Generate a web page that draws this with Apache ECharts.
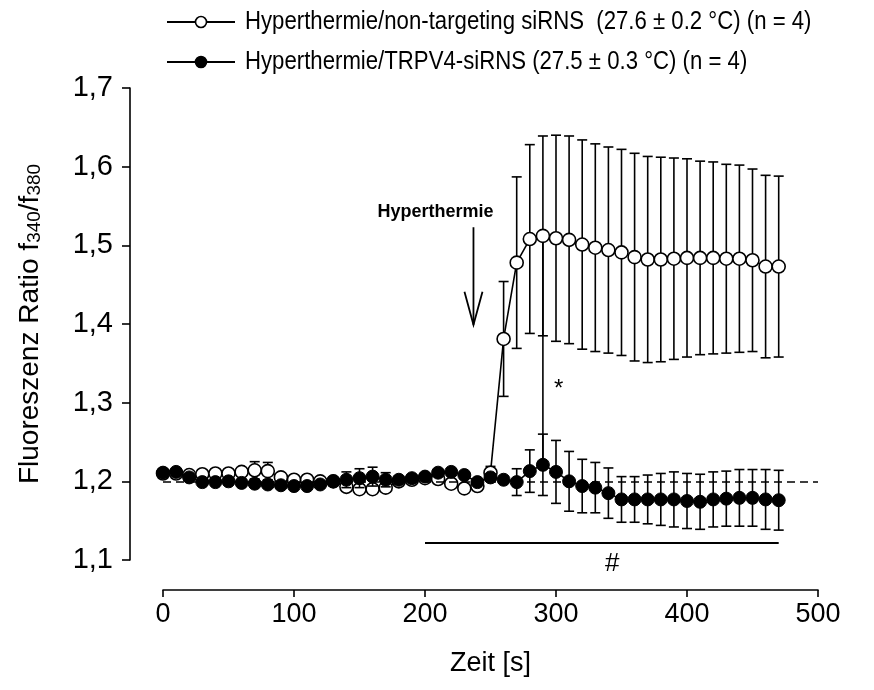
<!DOCTYPE html>
<html>
<head>
<meta charset="utf-8">
<script src="https://cdn.jsdelivr.net/npm/echarts@6/dist/echarts.min.js"></script>
<style>
  html, body { margin: 0; padding: 0; background: #fff; }
  #chart { width: 874px; height: 690px; }
</style>
</head>
<body>
<div id="chart"></div>
<script>
// Time points (s)
const times = [0,10,20,30,40,50,60,70,80,90,100,110,120,130,140,150,160,170,180,190,
  200,210,220,230,240,250,260,270,280,290,300,310,320,330,340,350,360,370,380,390,
  400,410,420,430,440,450,460,470];

// Hyperthermie / non-targeting siRNS: mean and SEM
const ctrlMean = [1.210,1.210,1.208,1.209,1.210,1.210,1.212,1.214,1.213,1.205,1.202,1.202,1.200,1.200,1.193,1.190,1.190,1.192,1.200,1.202,
  1.204,1.203,1.197,1.191,1.194,1.211,1.381,1.478,1.508,1.512,1.509,1.507,1.501,1.497,1.494,1.491,1.485,1.482,1.482,1.483,
  1.484,1.484,1.484,1.483,1.483,1.481,1.473,1.473];
const ctrlSem = [0.004,0.004,0.004,0.004,0.004,0.004,0.005,0.011,0.011,0.005,0.004,0.004,0.004,0.004,0.005,0.005,0.005,0.005,0.004,0.004,
  0.004,0.004,0.004,0.004,0.004,0.008,0.073,0.109,0.120,0.127,0.131,0.132,0.133,0.132,0.131,0.131,0.132,0.131,0.130,0.128,
  0.126,0.123,0.122,0.120,0.119,0.116,0.116,0.115];

// Hyperthermie / TRPV4-siRNS: mean and SEM
const trpvMean = [1.211,1.212,1.205,1.199,1.199,1.200,1.198,1.197,1.196,1.195,1.194,1.194,1.196,1.200,1.202,1.204,1.206,1.202,1.202,1.204,
  1.206,1.211,1.212,1.208,1.199,1.205,1.202,1.199,1.213,1.221,1.212,1.200,1.194,1.192,1.185,1.177,1.177,1.177,1.177,1.177,
  1.175,1.174,1.177,1.178,1.179,1.179,1.177,1.176];
const trpvSem = [0.005,0.004,0.004,0.004,0.004,0.004,0.004,0.004,0.004,0.004,0.004,0.004,0.004,0.004,0.010,0.012,0.012,0.009,0.004,0.004,
  0.004,0.004,0.004,0.004,0.004,0.004,0.004,0.017,0.027,0.039,0.040,0.038,0.034,0.032,0.032,0.029,0.029,0.031,0.033,0.035,
  0.035,0.035,0.035,0.035,0.036,0.036,0.038,0.038];

const seriesNames = [
  'Hyperthermie/non-targeting siRNS  (27.6 \u00b1 0.2 \u00b0C) (n = 4)',
  'Hyperthermie/TRPV4-siRNS (27.5 \u00b1 0.3 \u00b0C) (n = 4)'
];

// Axis ranges and ticks
const xMin = 0, xMax = 500, xStep = 100;
const yMin = 1.1, yMax = 1.7, yStep = 0.1;

// Annotations (data coordinates)
const stimulusTime = 237;          // arrow marking the heat stimulus
const arrowSpan = [1.523, 1.399];  // arrow top / tip
const stimulusLabel = 'Hyperthermie';
const sigIndex = 29;               // time point of the * comparison (290 s)
const hashSpan = [200, 470];       // period marked with #
const hashLevel = 1.1216;
const baseline = 1.2;

const FONT = '"Liberation Sans", Arial, sans-serif';

const pairs = (m) => times.map((t, i) => [t, m[i]]);
const errRows = (m, s) => times.map((t, i) => [t, m[i] - s[i], m[i] + s[i]]);

function errorBarItem(params, api) {
  const x = api.value(0);
  const lo = api.coord([x, api.value(1)]);
  const hi = api.coord([x, api.value(2)]);
  const cap = 5;
  const style = { stroke: '#000', lineWidth: 1.6 };
  return {
    type: 'group',
    children: [
      { type: 'line', shape: { x1: lo[0], y1: lo[1], x2: hi[0], y2: hi[1] }, style },
      { type: 'line', shape: { x1: hi[0] - cap, y1: hi[1], x2: hi[0] + cap, y2: hi[1] }, style },
      { type: 'line', shape: { x1: lo[0] - cap, y1: lo[1], x2: lo[0] + cap, y2: lo[1] }, style }
    ]
  };
}

// Legend rows drawn as graphics so the condensed lettering can be reproduced
function legendRow(y, filled, text) {
  return {
    type: 'group',
    children: [
      { type: 'line', shape: { x1: 167, y1: y, x2: 235, y2: y }, style: { stroke: '#000', lineWidth: 1.8 } },
      { type: 'circle', shape: { cx: 201, cy: y, r: 5.5 }, style: { fill: filled ? '#000' : '#fff', stroke: '#000', lineWidth: 1.6 } },
      { type: 'text', x: 245, y: y, scaleX: 0.853,
        style: { text: text, font: '26px ' + FONT, fill: '#000', align: 'left', verticalAlign: 'middle' } }
    ]
  };
}

const chart = echarts.init(document.getElementById('chart'), null, { renderer: 'canvas' });

chart.setOption({
  animation: false,
  backgroundColor: '#fff',
  grid: { left: 163, right: 56, top: 88, bottom: 130 },
  graphic: [
    legendRow(22, false, seriesNames[0]),
    legendRow(62, true, seriesNames[1])
  ],
  xAxis: {
    type: 'value',
    min: xMin, max: xMax, interval: xStep,
    offset: 30,
    name: 'Zeit [s]',
    nameLocation: 'middle',
    nameGap: 60,
    nameTextStyle: { fontFamily: FONT, fontSize: 27, color: '#000' },
    axisLine: { onZero: false, lineStyle: { color: '#000', width: 1.6 } },
    axisTick: { length: 7, lineStyle: { color: '#000', width: 1.6 } },
    axisLabel: { fontFamily: FONT, fontSize: 27, color: '#000', margin: 11 },
    splitLine: { show: false }
  },
  yAxis: {
    type: 'value',
    min: yMin, max: yMax, interval: yStep,
    offset: 33,
    name: '{t|Fluoreszenz Ratio f}{s|340}{t|/f}{s|380}',
    nameLocation: 'middle',
    nameRotate: 90,
    nameGap: 86,
    nameTextStyle: {
      rich: {
        t: { fontFamily: FONT, fontSize: 28, color: '#000', lineHeight: 34, verticalAlign: 'bottom' },
        s: { fontFamily: FONT, fontSize: 19, color: '#000', lineHeight: 34, verticalAlign: 'bottom' }
      }
    },
    axisLine: { show: true, onZero: false, lineStyle: { color: '#000', width: 1.6 } },
    axisTick: { show: true, length: 8, lineStyle: { color: '#000', width: 1.6 } },
    axisLabel: {
      fontFamily: FONT, fontSize: 29, color: '#000', margin: 17,
      formatter: (v) => v.toFixed(1).replace('.', ',')
    },
    splitLine: { show: false }
  },
  series: [
    {
      name: 'ctrlErr',
      type: 'custom',
      renderItem: errorBarItem,
      encode: { x: 0, y: [1, 2] },
      data: errRows(ctrlMean, ctrlSem),
      z: 2, silent: true
    },
    {
      name: seriesNames[0],
      type: 'line',
      data: pairs(ctrlMean),
      symbol: 'circle',
      symbolSize: 13,
      showAllSymbol: true,
      lineStyle: { color: '#000', width: 1.6 },
      itemStyle: { color: '#fff', borderColor: '#000', borderWidth: 1.6 },
      z: 3
    },
    {
      name: 'trpvErr',
      type: 'custom',
      renderItem: errorBarItem,
      encode: { x: 0, y: [1, 2] },
      data: errRows(trpvMean, trpvSem),
      z: 4, silent: true
    },
    {
      name: seriesNames[1],
      type: 'line',
      data: pairs(trpvMean),
      symbol: 'circle',
      symbolSize: 13,
      showAllSymbol: true,
      lineStyle: { color: '#000', width: 1.6 },
      itemStyle: { color: '#000', borderColor: '#000', borderWidth: 1 },
      z: 5,
      markLine: {
        silent: true,
        symbol: 'none',
        label: { show: false },
        lineStyle: { color: '#000', width: 1.6, type: [8, 5] },
        data: [{ yAxis: baseline }]
      }
    },
    {
      // vertical link between the two means at the * time point
      name: 'sigLink',
      type: 'line',
      data: [[times[sigIndex], ctrlMean[sigIndex]], [times[sigIndex], trpvMean[sigIndex]]],
      symbol: 'none',
      lineStyle: { color: '#000', width: 1.6 },
      z: 1, silent: true
    },
    {
      // bar marking the significant period
      name: 'hashBar',
      type: 'line',
      data: [[hashSpan[0], hashLevel], [hashSpan[1], hashLevel]],
      symbol: 'none',
      lineStyle: { color: '#000', width: 2 },
      z: 1, silent: true
    },
    {
      // stimulus arrow, label and significance marks
      name: 'notes',
      type: 'custom',
      silent: true,
      clip: false,
      z: 6,
      data: [[0]],
      renderItem: function (params, api) {
        const top = api.coord([stimulusTime, arrowSpan[0]]);
        const tip = api.coord([stimulusTime, arrowSpan[1]]);
        const st = { stroke: '#000', lineWidth: 1.8 };
        const lbl = api.coord([208, 1.542]);
        const star = api.coord([302, 1.317]);
        const hash = api.coord([343, 1.095]);
        return {
          type: 'group',
          children: [
            { type: 'line', shape: { x1: top[0], y1: top[1], x2: tip[0], y2: tip[1] }, style: st },
            { type: 'polyline', shape: { points: [[tip[0] - 9, tip[1] - 33], [tip[0], tip[1]], [tip[0] + 9, tip[1] - 33]] }, style: { stroke: '#000', lineWidth: 1.8, fill: null } },
            { type: 'text', x: lbl[0], y: lbl[1], style: { text: stimulusLabel, font: 'bold 18px ' + FONT, fill: '#000', align: 'center', verticalAlign: 'middle' } },
            { type: 'text', x: star[0], y: star[1], style: { text: '*', font: '24px ' + FONT, fill: '#000', align: 'center', verticalAlign: 'middle' } },
            { type: 'text', x: hash[0], y: hash[1], style: { text: '#', font: '26px ' + FONT, fill: '#000', align: 'center', verticalAlign: 'middle' } }
          ]
        };
      }
    }
  ]
});
</script>
</body>
</html>
